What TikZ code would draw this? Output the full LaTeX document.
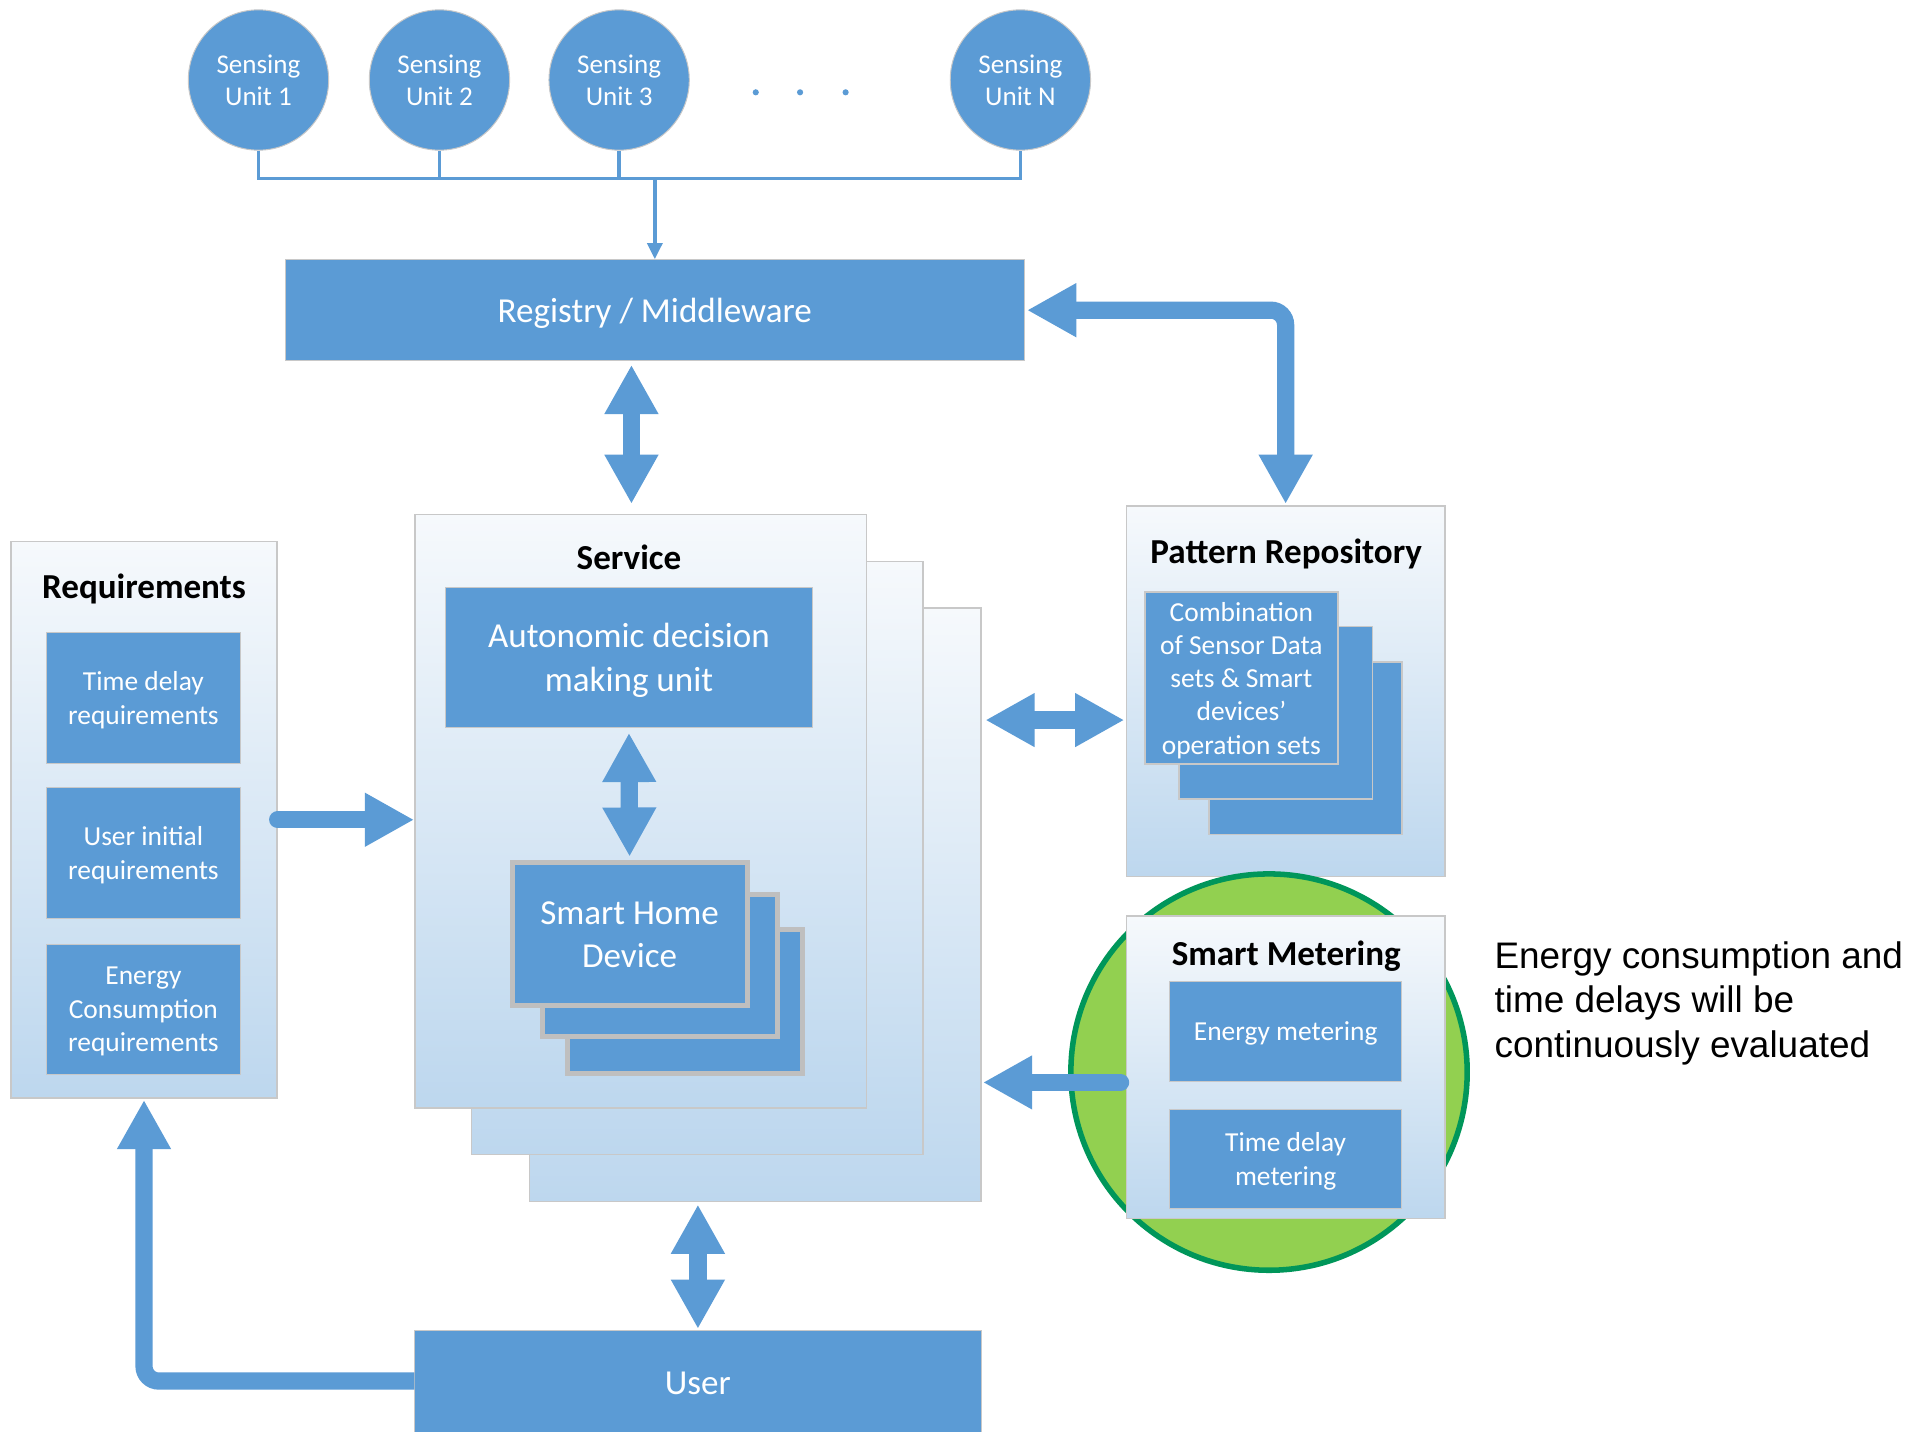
\documentclass[tikz,border=0pt]{standalone}
\usepackage{fontspec}
\setmainfont{Carlito}
\newfontfamily\arialf{Liberation Sans}
\usetikzlibrary{arrows.meta,calc}
\definecolor{bl}{HTML}{5B9BD5}
\definecolor{pTop}{HTML}{F6F9FC}
\definecolor{pBot}{HTML}{BDD7EE}
\definecolor{edge}{HTML}{C8C8C8}
\definecolor{grn}{HTML}{92D050}
\definecolor{dgrn}{HTML}{00965A}
\definecolor{shd}{HTML}{BFBFBF}
\tikzset{
  blk/.style={fill=bl, draw=edge, line width=0.8pt, text=white, align=center, inner sep=0pt, text depth=0pt},
  panel/.style={top color=pTop, bottom color=pBot, draw=edge, line width=1.2pt, inner sep=0pt},
  heading/.style={font=\bfseries\fontsize{28.5}{34}\selectfont, inner sep=0pt, text depth=0pt},
  small/.style={font=\fontsize{22.3}{27}\selectfont},
  big/.style={font=\fontsize{28.5}{35}\selectfont},
  sensor/.style={circle, fill=bl, draw=edge, line width=0.8pt, minimum size=114pt, text=white, align=center, inner sep=0pt, font=\fontsize{22}{26}\selectfont},
  dotn/.style={circle, fill=bl, inner sep=0pt, minimum size=5pt},
  busline/.style={draw=bl, line width=3pt},
  busarr/.style={draw=bl, line width=3pt, -{Triangle[length=13pt,width=12pt]}},
  bigarr/.style={draw=bl, line width=14pt, -{Triangle[length=40pt,width=41pt]}},
  bigdbl/.style={draw=bl, line width=14pt, {Triangle[length=40pt,width=41pt]}-{Triangle[length=40pt,width=41pt]}},
  shdbox/.style={fill=bl, draw=shd, line width=4pt, inner sep=0pt, text depth=0pt},
  patbox/.style={fill=bl, draw=edge, line width=1.5pt, inner sep=0pt, text=white, align=center, text depth=0pt},
}
\begin{document}
\begin{tikzpicture}[x=1pt,y=-1pt]
\useasboundingbox (0,0) rectangle (1568,1163.4);
\fill[white] (0,0) rectangle (1568,1163.4);

% sensing units
\node[sensor] (s1) at (210,65) {Sensing\\Unit 1};
\node[sensor] (s2) at (357,65) {Sensing\\Unit 2};
\node[sensor] (s3) at (503,65) {Sensing\\Unit 3};
\node[sensor] (sN) at (829,65) {Sensing\\Unit N};
\node[dotn] (d1) at (614,75) {};
\node[dotn] (d2) at (650,75) {};
\node[dotn] (d3) at (687,75) {};

% registry
\node[blk, big, minimum width=600pt, minimum height=82pt] (reg) at (532,252) {Registry / Middleware};

\coordinate (bus) at (532,145);
\draw[busline] (s1.south) |- (bus) -| (sN.south);
\draw[busline] (s2.south) -- (s2.south |- bus);
\draw[busline] (s3.south) -- (s3.south |- bus);
\draw[busarr] (bus) -- (reg.north);

% service stack
\node[panel, minimum width=367pt, minimum height=482pt] (svc3) at (613.5,735) {};
\node[panel, minimum width=367pt, minimum height=482pt] (svc2) at (566.5,697) {};
\node[panel, minimum width=367pt, minimum height=482pt] (svc1) at (520.5,659) {};
\node[heading] (svct) at (511,453) {Service};
\node[blk, big, minimum width=298pt, minimum height=114pt] (auto) at (511,534) {Autonomic decision\\making unit};
\node[shdbox, minimum width=191pt, minimum height=117pt] (shd3) at (556.5,813.5) {};
\node[shdbox, minimum width=191pt, minimum height=115pt] (shd2) at (536.5,784.5) {};
\node[shdbox, big, minimum width=191pt, minimum height=116pt, text=white, align=center] (shd1) at (511.5,759) {Smart Home\\Device};
\draw[bigdbl] ([yshift=-4pt]auto.south) -- ([yshift=3pt]shd1.north);

% requirements
\node[panel, minimum width=216pt, minimum height=452pt] (req) at (117,666) {};
\node[heading] (reqt) at (117,476) {Requirements};
\node[blk, small, minimum width=157pt, minimum height=106pt] (r1) at (116.5,567) {Time delay\\requirements};
\node[blk, small, minimum width=157pt, minimum height=106pt] (r2) at (116.5,693) {User initial\\requirements};
\node[blk, small, minimum width=157pt, minimum height=106pt] (r3) at (116.5,820) {Energy\\Consumption\\requirements};

% pattern repository
\node[panel, minimum width=259pt, minimum height=301pt] (pat) at (1044.5,561.5) {};
\node[heading] (patt) at (1045,448) {Pattern Repository};
\node[patbox, minimum width=157pt, minimum height=140pt] (p3) at (1060.5,608) {};
\node[patbox, minimum width=157pt, minimum height=140pt] (p2) at (1036.5,579) {};
\node[patbox, small, minimum width=157pt, minimum height=140pt] (p1) at (1008.5,551) {Combination\\of Sensor Data\\sets \& Smart\\devices’\\operation sets};

% smart metering
\node[circle, fill=grn, draw=dgrn, line width=4.5pt, minimum size=322pt, inner sep=0pt] (green) at (1031,871) {};
\node[panel, minimum width=259pt, minimum height=246pt] (met) at (1044.5,867) {};
\node[heading] (mett) at (1045,774) {Smart Metering};
\node[blk, small, minimum width=189pt, minimum height=82pt] (m1) at (1044.5,838) {Energy metering};
\node[blk, small, minimum width=189pt, minimum height=81pt] (m2) at (1044.5,941.5) {Time delay\\metering};

\node[anchor=west, align=left, inner sep=0pt, font=\arialf\fontsize{30}{36}\selectfont] (note) at (1214,815) {Energy consumption and\\time delays will be\\continuously evaluated};

% user
\node[blk, big, minimum width=460pt, minimum height=86pt] (user) at (567,1124) {User};

% connectors
\draw[bigdbl] ([xshift=-19pt,yshift=-3pt]reg.south) -- ([xshift=-7.5pt,yshift=8pt]svc1.north);
\draw[bigdbl, rounded corners=12pt] ([xshift=2pt]reg.east) -| ([yshift=1pt]pat.north);
\draw[bigarr, line cap=round] ([xshift=0pt]req.east) -- (svc1.west |- req.east);
\coordinate (yPS) at (0,585);
\draw[bigdbl] ($(svc3.east |- yPS)+(3,0)$) -- ($(pat.west |- yPS)+(-1,0)$);
\draw[bigarr, line cap=round] ($(m1.south -| met.west)+(-4,0)$) -- ($(svc3.east |- m1.south)+(1,0)$);
\draw[bigdbl] ($(user.north |- svc3.south)+(0,2)$) -- ($(user.north)+(0,-1)$);
\draw[bigarr, rounded corners=12pt] (user.west |- 0,1122) -| ($(req.south)+(0,1)$);
\end{tikzpicture}
\end{document}
